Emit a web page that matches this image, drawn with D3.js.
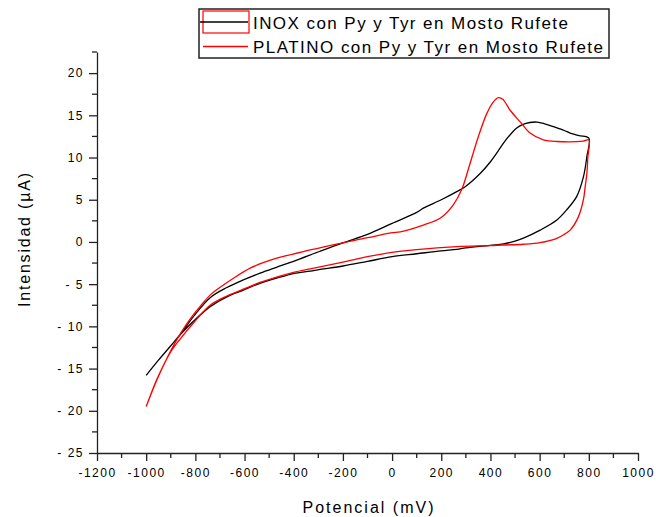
<!DOCTYPE html>
<html><head><meta charset="utf-8">
<script src="https://cdn.jsdelivr.net/npm/d3@7"></script>
<style>
html,body{margin:0;padding:0;background:#fff;}
svg{display:block;font-family:Arial,"Liberation Sans",sans-serif;}
</style></head>
<body>
<svg id="chart" width="656" height="517"></svg>
<script>
// ---- data ----
const seriesNames = ["INOX con Py y Tyr en Mosto Rufete", "PLATINO con Py y Tyr en Mosto Rufete"];
// INOX: forward scan (-1000 -> 800) then reverse scan (800 -> -1000)
const inoxPotential = [-1000,-950,-900,-862,-808,-740,-672,-605,-537,-470,-401,-293,-200,-100,0,100,127,200,263,300,358,400,439,453,480,507,530,560,590,620,656,700,724,760,800,
  792,778,751,710,670,602,534,500,453,400,300,263,200,100,0,-100,-200,-293,-333,-401,-470,-537,-605,-672,-740,-808,-862,-900,-950,-1000];
const inoxCurrent = [-15.8,-14.0,-12.3,-11.0,-8.85,-6.6,-5.4,-4.5,-3.7,-3.0,-2.3,-1.1,-0.1,0.9,2.2,3.5,4.0,5.0,5.96,6.6,8.1,9.5,11.1,11.7,12.7,13.5,13.9,14.15,14.2,14.0,13.65,13.2,12.9,12.6,12.3,
  10.1,7.7,5.4,3.8,2.6,1.4,0.45,0.1,-0.24,-0.4,-0.7,-0.87,-1.05,-1.4,-1.75,-2.3,-2.85,-3.25,-3.45,-3.75,-4.3,-4.9,-5.7,-6.5,-7.66,-9.4,-11.0,-12.3,-14.0,-15.8];
// PLATINO
const ptPotential = [-1000,-957,-916,-876,-842,-808,-781,-740,-686,-645,-577,-469,-333,-211,-100,0,33,127,195,249,283,317,351,385,412,432,450,480,520,561,615,670,778,800,
  796,792,785,778,758,724,700,670,602,534,450,399,263,100,-8,-100,-200,-333,-401,-537,-605,-672,-740,-808,-862,-900,-950,-1000];
const ptCurrent = [-19.5,-16.3,-13.8,-11.6,-10.0,-8.6,-7.66,-6.3,-5.1,-4.3,-3.1,-1.93,-0.95,-0.16,0.5,1.1,1.2,2.0,2.8,4.4,6.2,9.3,12.5,15.2,16.6,17.1,16.9,15.6,14.25,12.9,12.1,11.9,11.95,12.1,
  10.0,8.1,6.5,5.0,3.0,1.4,0.9,0.43,-0.08,-0.27,-0.36,-0.43,-0.55,-0.9,-1.26,-1.75,-2.4,-3.2,-3.6,-4.8,-5.6,-6.4,-7.5,-9.6,-11.5,-13.0,-15.9,-19.5];
const xTicks = [-1200,-1000,-800,-600,-400,-200,0,200,400,600,800,1000];
const yTicks = [-25,-20,-15,-10,-5,0,5,10,15,20];
const xTitle = "Potencial (mV)";
const yTitle = "Intensidad (\u00B5A)";

// ---- drawing ----
const svg = d3.select("#chart");
const x = d3.scaleLinear().domain([-1200, 1000]).range([97, 638]);
const y = d3.scaleLinear().domain([-25, 22.5]).range([453, 52]);
const colors = ["#000000", "#ff0000"];

const xMinor = d3.range(-1200, 1001, 100).filter(v => v % 200 !== 0);
const yMinor = d3.range(-22.5, 22.6, 5);

const gx = svg.append("g").attr("transform", "translate(0,453)");
gx.call(d3.axisBottom(x).tickValues(xTicks).tickSize(8).tickPadding(7).tickSizeOuter(0).tickFormat(d => String(d)));
gx.append("g").selectAll("line").data(xMinor).join("line")
  .attr("x1", d => x(d)).attr("x2", d => x(d)).attr("y1", 0).attr("y2", 5)
  .attr("stroke", "#222").attr("stroke-width", 1.3);

const gy = svg.append("g").attr("transform", "translate(97,0)");
gy.call(d3.axisLeft(y).tickValues(yTicks).tickSize(8).tickPadding(5).tickSizeOuter(0).tickFormat(d => String(d)));
gy.append("g").selectAll("line").data(yMinor).join("line")
  .attr("y1", d => y(d)).attr("y2", d => y(d)).attr("x1", 0).attr("x2", -5)
  .attr("stroke", "#222").attr("stroke-width", 1.3);

[gx, gy].forEach(g => {
  g.select(".domain").attr("stroke", "#222").attr("stroke-width", 1.3);
  g.selectAll(".tick line").attr("stroke", "#222").attr("stroke-width", 1.3);
  g.selectAll(".tick text").attr("fill", "#000").style("font-size", "12px").style("letter-spacing", "1.5px");
});
gy.selectAll(".tick text").text(d => d < 0 ? "- " + Math.abs(d) : String(d));

// titles
svg.append("text").attr("x", 368).attr("y", 513).attr("text-anchor", "middle")
  .style("font-size", "16px").attr("textLength", 131).attr("lengthAdjust", "spacing").text(xTitle);
svg.append("text").attr("transform", "translate(30,240) rotate(-90)").attr("text-anchor", "middle")
  .style("font-size", "16px").attr("textLength", 134).attr("lengthAdjust", "spacing").text(yTitle);

// curves
const line = d3.line().x(d => x(d[0])).y(d => y(d[1])).curve(d3.curveCatmullRom.alpha(0.5));
const data = [d3.zip(inoxPotential, inoxCurrent), d3.zip(ptPotential, ptCurrent)];
svg.append("g").selectAll("path").data(data).join("path")
  .attr("d", line).attr("fill", "none")
  .attr("stroke", (d, i) => colors[i]).attr("stroke-width", 1.3);

// legend
const lg = svg.append("g");
lg.append("rect").attr("x", 199).attr("y", 9).attr("width", 410).attr("height", 49)
  .attr("fill", "#fff").attr("stroke", "#222").attr("stroke-width", 1.5);
lg.append("rect").attr("x", 203).attr("y", 11).attr("width", 46).attr("height", 22)
  .attr("fill", "none").attr("stroke", "#ff0000").attr("stroke-width", 1.2);
const rowsY = [22, 46.5];
const textLens = [315, 350];
seriesNames.forEach((name, i) => {
  lg.append("line").attr("x1", i === 0 ? 200 : 203).attr("x2", 248).attr("y1", rowsY[i]).attr("y2", rowsY[i])
    .attr("stroke", colors[i]).attr("stroke-width", 1.3);
  lg.append("text").attr("x", 253).attr("y", rowsY[i] + 6.5)
    .style("font-size", "17px").attr("textLength", textLens[i]).attr("lengthAdjust", "spacing")
    .attr("fill", "#000").text(name);
});
</script>
</body></html>
